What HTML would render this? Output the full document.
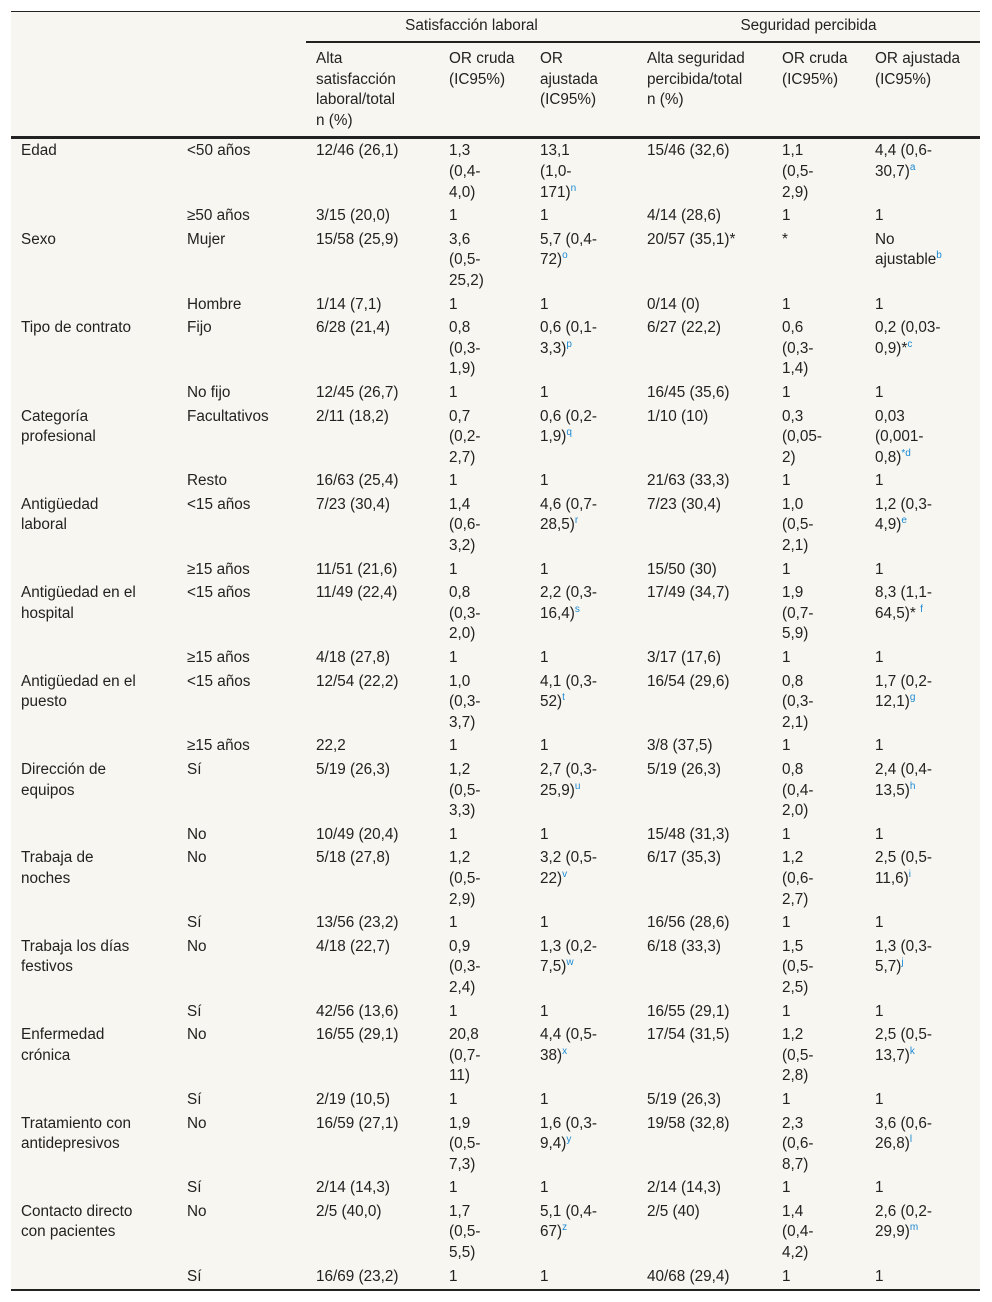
<!DOCTYPE html>
<html><head><meta charset="utf-8">
<style>
html,body{margin:0;padding:0;background:#fff;}
body{width:992px;height:1302px;position:relative;font-family:"Liberation Sans",Arial,sans-serif;font-size:15.3px;color:#222;}
table{position:absolute;left:11px;top:11px;width:969px;border-collapse:collapse;table-layout:fixed;background:#f8f6f0;border-top:1px solid #222;border-bottom:2px solid #222;}
td,th{font-weight:normal;text-align:left;vertical-align:top;padding:1px 2px 2px 10px;line-height:20.6px;white-space:nowrap;overflow:visible;}
th.grp{text-align:center;height:29px;vertical-align:middle;padding:0;}
tr.h1 th.grp{border-bottom:2px solid #222;}
tr.h2 th{padding-top:6px;padding-bottom:5px;}
tr.h2{border-bottom:3px solid #222;}
tr.first td{padding-top:2px;}
sup{color:#1a8ad4;font-size:10px;line-height:0;}
</style></head><body>
<table>
<colgroup><col style="width:166px"><col style="width:129px"><col style="width:133px"><col style="width:91px"><col style="width:107px"><col style="width:135px"><col style="width:93px"><col style="width:115px"></colgroup>
<thead>
<tr class="h1"><th></th><th></th><th class="grp" colspan="3">Satisfacción laboral</th><th class="grp" colspan="3">Seguridad percibida</th></tr>
<tr class="h2"><th></th><th></th><th>Alta<br>satisfacción<br>laboral/total<br>n (%)</th><th>OR cruda<br>(IC95%)</th><th>OR<br>ajustada<br>(IC95%)</th><th>Alta seguridad<br>percibida/total<br>n (%)</th><th>OR cruda<br>(IC95%)</th><th>OR ajustada<br>(IC95%)</th></tr>
</thead>
<tbody>
<tr class="first"><td>Edad</td><td>&lt;50 años</td><td>12/46 (26,1)</td><td>1,3<br>(0,4-<br>4,0)</td><td>13,1<br>(1,0-<br>171)<sup>n</sup></td><td>15/46 (32,6)</td><td>1,1<br>(0,5-<br>2,9)</td><td>4,4 (0,6-<br>30,7)<sup>a</sup></td></tr>
<tr><td></td><td>≥50 años</td><td>3/15 (20,0)</td><td>1</td><td>1</td><td>4/14 (28,6)</td><td>1</td><td>1</td></tr>
<tr><td>Sexo</td><td>Mujer</td><td>15/58 (25,9)</td><td>3,6<br>(0,5-<br>25,2)</td><td>5,7 (0,4-<br>72)<sup>o</sup></td><td>20/57 (35,1)*</td><td>*</td><td>No<br>ajustable<sup>b</sup></td></tr>
<tr><td></td><td>Hombre</td><td>1/14 (7,1)</td><td>1</td><td>1</td><td>0/14 (0)</td><td>1</td><td>1</td></tr>
<tr><td>Tipo de contrato</td><td>Fijo</td><td>6/28 (21,4)</td><td>0,8<br>(0,3-<br>1,9)</td><td>0,6 (0,1-<br>3,3)<sup>p</sup></td><td>6/27 (22,2)</td><td>0,6<br>(0,3-<br>1,4)</td><td>0,2 (0,03-<br>0,9)*<sup>c</sup></td></tr>
<tr><td></td><td>No fijo</td><td>12/45 (26,7)</td><td>1</td><td>1</td><td>16/45 (35,6)</td><td>1</td><td>1</td></tr>
<tr><td>Categoría<br>profesional</td><td>Facultativos</td><td>2/11 (18,2)</td><td>0,7<br>(0,2-<br>2,7)</td><td>0,6 (0,2-<br>1,9)<sup>q</sup></td><td>1/10 (10)</td><td>0,3<br>(0,05-<br>2)</td><td>0,03<br>(0,001-<br>0,8)<sup>*d</sup></td></tr>
<tr><td></td><td>Resto</td><td>16/63 (25,4)</td><td>1</td><td>1</td><td>21/63 (33,3)</td><td>1</td><td>1</td></tr>
<tr><td>Antigüedad<br>laboral</td><td>&lt;15 años</td><td>7/23 (30,4)</td><td>1,4<br>(0,6-<br>3,2)</td><td>4,6 (0,7-<br>28,5)<sup>r</sup></td><td>7/23 (30,4)</td><td>1,0<br>(0,5-<br>2,1)</td><td>1,2 (0,3-<br>4,9)<sup>e</sup></td></tr>
<tr><td></td><td>≥15 años</td><td>11/51 (21,6)</td><td>1</td><td>1</td><td>15/50 (30)</td><td>1</td><td>1</td></tr>
<tr><td>Antigüedad en el<br>hospital</td><td>&lt;15 años</td><td>11/49 (22,4)</td><td>0,8<br>(0,3-<br>2,0)</td><td>2,2 (0,3-<br>16,4)<sup>s</sup></td><td>17/49 (34,7)</td><td>1,9<br>(0,7-<br>5,9)</td><td>8,3 (1,1-<br>64,5)* <sup>f</sup></td></tr>
<tr><td></td><td>≥15 años</td><td>4/18 (27,8)</td><td>1</td><td>1</td><td>3/17 (17,6)</td><td>1</td><td>1</td></tr>
<tr><td>Antigüedad en el<br>puesto</td><td>&lt;15 años</td><td>12/54 (22,2)</td><td>1,0<br>(0,3-<br>3,7)</td><td>4,1 (0,3-<br>52)<sup>t</sup></td><td>16/54 (29,6)</td><td>0,8<br>(0,3-<br>2,1)</td><td>1,7 (0,2-<br>12,1)<sup>g</sup></td></tr>
<tr><td></td><td>≥15 años</td><td>22,2</td><td>1</td><td>1</td><td>3/8 (37,5)</td><td>1</td><td>1</td></tr>
<tr><td>Dirección de<br>equipos</td><td>Sí</td><td>5/19 (26,3)</td><td>1,2<br>(0,5-<br>3,3)</td><td>2,7 (0,3-<br>25,9)<sup>u</sup></td><td>5/19 (26,3)</td><td>0,8<br>(0,4-<br>2,0)</td><td>2,4 (0,4-<br>13,5)<sup>h</sup></td></tr>
<tr><td></td><td>No</td><td>10/49 (20,4)</td><td>1</td><td>1</td><td>15/48 (31,3)</td><td>1</td><td>1</td></tr>
<tr><td>Trabaja de<br>noches</td><td>No</td><td>5/18 (27,8)</td><td>1,2<br>(0,5-<br>2,9)</td><td>3,2 (0,5-<br>22)<sup>v</sup></td><td>6/17 (35,3)</td><td>1,2<br>(0,6-<br>2,7)</td><td>2,5 (0,5-<br>11,6)<sup>i</sup></td></tr>
<tr><td></td><td>Sí</td><td>13/56 (23,2)</td><td>1</td><td>1</td><td>16/56 (28,6)</td><td>1</td><td>1</td></tr>
<tr><td>Trabaja los días<br>festivos</td><td>No</td><td>4/18 (22,7)</td><td>0,9<br>(0,3-<br>2,4)</td><td>1,3 (0,2-<br>7,5)<sup>w</sup></td><td>6/18 (33,3)</td><td>1,5<br>(0,5-<br>2,5)</td><td>1,3 (0,3-<br>5,7)<sup>j</sup></td></tr>
<tr><td></td><td>Sí</td><td>42/56 (13,6)</td><td>1</td><td>1</td><td>16/55 (29,1)</td><td>1</td><td>1</td></tr>
<tr><td>Enfermedad<br>crónica</td><td>No</td><td>16/55 (29,1)</td><td>20,8<br>(0,7-<br>11)</td><td>4,4 (0,5-<br>38)<sup>x</sup></td><td>17/54 (31,5)</td><td>1,2<br>(0,5-<br>2,8)</td><td>2,5 (0,5-<br>13,7)<sup>k</sup></td></tr>
<tr><td></td><td>Sí</td><td>2/19 (10,5)</td><td>1</td><td>1</td><td>5/19 (26,3)</td><td>1</td><td>1</td></tr>
<tr><td>Tratamiento con<br>antidepresivos</td><td>No</td><td>16/59 (27,1)</td><td>1,9<br>(0,5-<br>7,3)</td><td>1,6 (0,3-<br>9,4)<sup>y</sup></td><td>19/58 (32,8)</td><td>2,3<br>(0,6-<br>8,7)</td><td>3,6 (0,6-<br>26,8)<sup>l</sup></td></tr>
<tr><td></td><td>Sí</td><td>2/14 (14,3)</td><td>1</td><td>1</td><td>2/14 (14,3)</td><td>1</td><td>1</td></tr>
<tr><td>Contacto directo<br>con pacientes</td><td>No</td><td>2/5 (40,0)</td><td>1,7<br>(0,5-<br>5,5)</td><td>5,1 (0,4-<br>67)<sup>z</sup></td><td>2/5 (40)</td><td>1,4<br>(0,4-<br>4,2)</td><td>2,6 (0,2-<br>29,9)<sup>m</sup></td></tr>
<tr><td></td><td>Sí</td><td>16/69 (23,2)</td><td>1</td><td>1</td><td>40/68 (29,4)</td><td>1</td><td>1</td></tr>
</tbody>
</table>
</body></html>
